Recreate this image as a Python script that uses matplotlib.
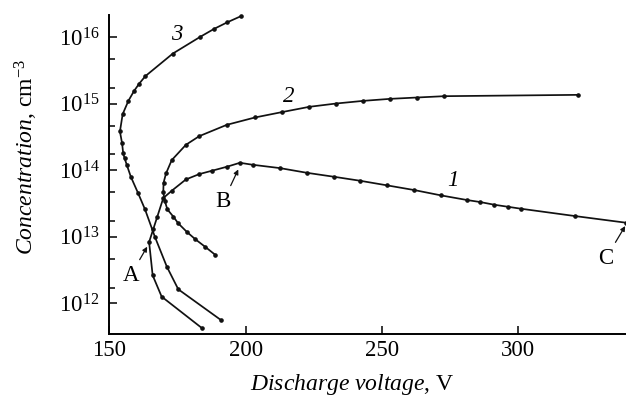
import numpy as np
import matplotlib
matplotlib.use("Agg")
import matplotlib.pyplot as plt
from matplotlib.ticker import FixedLocator, LogFormatterMathtext, NullFormatter

plt.rcParams['font.family'] = ['Liberation Serif', 'DejaVu Serif']
plt.rcParams['mathtext.fontset'] = 'custom'
plt.rcParams['mathtext.rm'] = 'Liberation Serif'
plt.rcParams['mathtext.it'] = 'Liberation Serif:italic'

# curve 1 (voltage V, log10 concentration)
v1 = [183.9, 169.2, 165.9, 164.6, 166.1, 167.6, 169.8, 172.9, 178.1, 183.0,
      187.6, 193.1, 197.9, 202.6, 212.6, 222.4, 232.4, 242.0, 252.0, 261.9,
      271.7, 281.3, 286.1, 291.2, 296.1, 301.0, 320.8, 339.5]
n1 = [11.63, 12.10, 12.42, 12.92, 13.11, 13.30, 13.58, 13.69, 13.86, 13.94,
      13.99, 14.05, 14.11, 14.08, 14.03, 13.96, 13.90, 13.84, 13.77, 13.70,
      13.62, 13.55, 13.52, 13.48, 13.45, 13.42, 13.31, 13.21]

# curve 2
v2 = [188.8, 185.1, 181.6, 178.5, 175.3, 173.5, 171.3, 170.4, 169.8, 169.9,
      170.8, 172.9, 178.1, 183.0, 193.1, 203.4, 213.2, 223.3, 233.2, 243.2,
      253.0, 262.8, 272.8, 322.0]
n2 = [12.73, 12.85, 12.96, 13.07, 13.20, 13.30, 13.41, 13.53, 13.67, 13.81,
      13.95, 14.15, 14.38, 14.51, 14.68, 14.79, 14.87, 14.95, 15.00, 15.04,
      15.07, 15.09, 15.11, 15.13]

# curve 3
v3 = [198.2, 193.3, 188.4, 183.3, 173.3, 163.2, 161.0, 159.1, 157.0, 154.9,
      153.9, 154.7, 155.1, 155.6, 156.4, 157.9, 160.6, 163.1, 166.8, 171.1,
      175.3, 190.9]
n3 = [16.31, 16.22, 16.12, 16.00, 15.75, 15.41, 15.30, 15.19, 15.04, 14.84,
      14.58, 14.40, 14.25, 14.18, 14.08, 13.90, 13.65, 13.41, 12.99, 12.55,
      12.21, 11.75]

x_ticks = [150, 200, 250, 300]
y_decades = [12, 13, 14, 15, 16]
minor_subs = [1.72, 4.65]

fig = plt.figure(figsize=(6.26, 3.99), dpi=100)
ax = fig.add_axes([0.1746, 0.1629, 0.8254, 0.7995])

for v, n in [(v1, n1), (v2, n2), (v3, n3)]:
    ax.plot(v, 10.0 ** np.array(n), color='#111111', lw=1.25,
            marker='o', ms=2.3, clip_on=False)

ax.set_yscale('log')
ax.set_xlim(150, 339.5)
ax.set_ylim(10 ** 11.539, 10 ** 16.329)

ax.xaxis.set_major_locator(FixedLocator(x_ticks))
ax.yaxis.set_major_locator(FixedLocator([10.0 ** d for d in y_decades]))
ax.yaxis.set_major_formatter(LogFormatterMathtext())
minors = [s * 10.0 ** d for d in y_decades[:-1] for s in minor_subs]
ax.yaxis.set_minor_locator(FixedLocator(minors))
ax.yaxis.set_minor_formatter(NullFormatter())

for side in ['top', 'right']:
    ax.spines[side].set_visible(False)
for side in ['left', 'bottom']:
    ax.spines[side].set_linewidth(1.4)

ax.tick_params(which='major', direction='in', length=6, width=1.1,
               labelsize=16.5, pad=4)
ax.tick_params(which='minor', direction='in', length=4.3, width=1.1)
ax.tick_params(axis='y', which='major', pad=7)

ax.set_xlabel(r'$\it{Discharge\ voltage}$, V', fontsize=17)
ax.set_ylabel(r'$\it{Concentration}$, cm$^{-3}$', fontsize=17)
ax.xaxis.set_label_coords(0.47, -0.118)
ax.yaxis.set_label_coords(-0.135, 0.555)

# curve numbers
ax.text(174.7, 10 ** 16.03, '3', fontsize=16.5, style='italic', ha='center', va='center')
ax.text(215.7, 10 ** 15.10, '2', fontsize=16.5, style='italic', ha='center', va='center')
ax.text(276.0, 10 ** 13.84, '1', fontsize=16.5, style='italic', ha='center', va='center')

# point labels
arrow = dict(arrowstyle='-|>', color='#111111', lw=0.9, mutation_scale=7,
             shrinkA=2, shrinkB=0)
ax.annotate('A', xy=(163.9, 10 ** 12.85), xytext=(157.8, 10 ** 12.42),
            fontsize=16.5, ha='center', va='center', arrowprops=arrow)
ax.annotate('B', xy=(197.3, 10 ** 14.01), xytext=(191.8, 10 ** 13.53),
            fontsize=16.5, ha='center', va='center', arrowprops=arrow)
ax.annotate('C', xy=(339.2, 10 ** 13.16), xytext=(332.2, 10 ** 12.68),
            fontsize=16.5, ha='center', va='center', arrowprops=arrow,
            annotation_clip=False)

fig.savefig('out.png', dpi=100)
